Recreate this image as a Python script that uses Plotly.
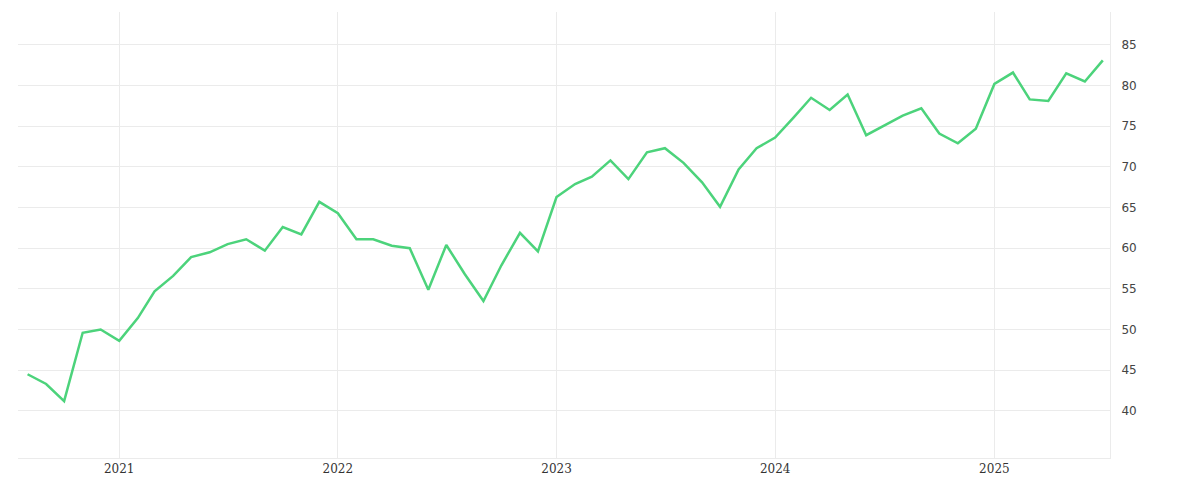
import plotly.graph_objects as go
import pandas as pd

dates = pd.date_range("2020-08-01", periods=60, freq="MS")
values = [44.5, 43.3, 41.2, 49.6, 50.0, 48.6, 51.4, 54.7, 56.6, 58.9, 59.5, 60.5,
          61.1, 59.7, 62.6, 61.7, 65.7, 64.3, 61.1, 61.1, 60.3, 60.0, 54.9, 60.4,
          56.8, 53.5, 57.9, 61.9, 59.6, 66.3, 67.9, 68.8, 70.8, 68.5, 71.8, 72.3,
          70.5, 68.1, 65.1, 69.7, 72.3, 73.6, 76.1, 78.5, 77.0, 78.9, 73.9, 75.1,
          76.3, 77.2, 74.1, 72.9, 74.7, 80.2, 81.6, 78.3, 78.1, 81.5, 80.5, 83.1]
y_ticks = [40, 45, 50, 55, 60, 65, 70, 75, 80, 85]
x_ticks = ["2021-01-01", "2022-01-01", "2023-01-01", "2024-01-01", "2025-01-01"]
x_labels = ["2021", "2022", "2023", "2024", "2025"]

fig = go.Figure(go.Scatter(x=dates, y=values, mode="lines",
                           line=dict(color="#4cd37b", width=2.5), hoverinfo="skip"))
fig.update_layout(
    width=1200, height=500, margin=dict(l=10, r=98, t=4, b=50),
    paper_bgcolor="white", plot_bgcolor="white", showlegend=False,
    font=dict(family="DejaVu Sans, sans-serif", size=12, color="#444"),
)
fig.update_xaxes(range=["2020-07-16", "2025-07-13"], tickvals=x_ticks, ticktext=x_labels,
                 showgrid=True, gridcolor="#ebebeb", gridwidth=1,
                 showline=True, linecolor="#ebebeb", zeroline=False,
                 tickfont=dict(family="DejaVu Serif, serif", size=12, color="#333"))
fig.update_yaxes(side="right", range=[34.2, 89.05], tickvals=y_ticks,
                 showgrid=True, gridcolor="#ebebeb", gridwidth=1,
                 showline=True, linecolor="#ebebeb", zeroline=False, ticklabelstandoff=8,
                 tickfont=dict(size=12, color="#444"))
fig.write_html("out.html")
